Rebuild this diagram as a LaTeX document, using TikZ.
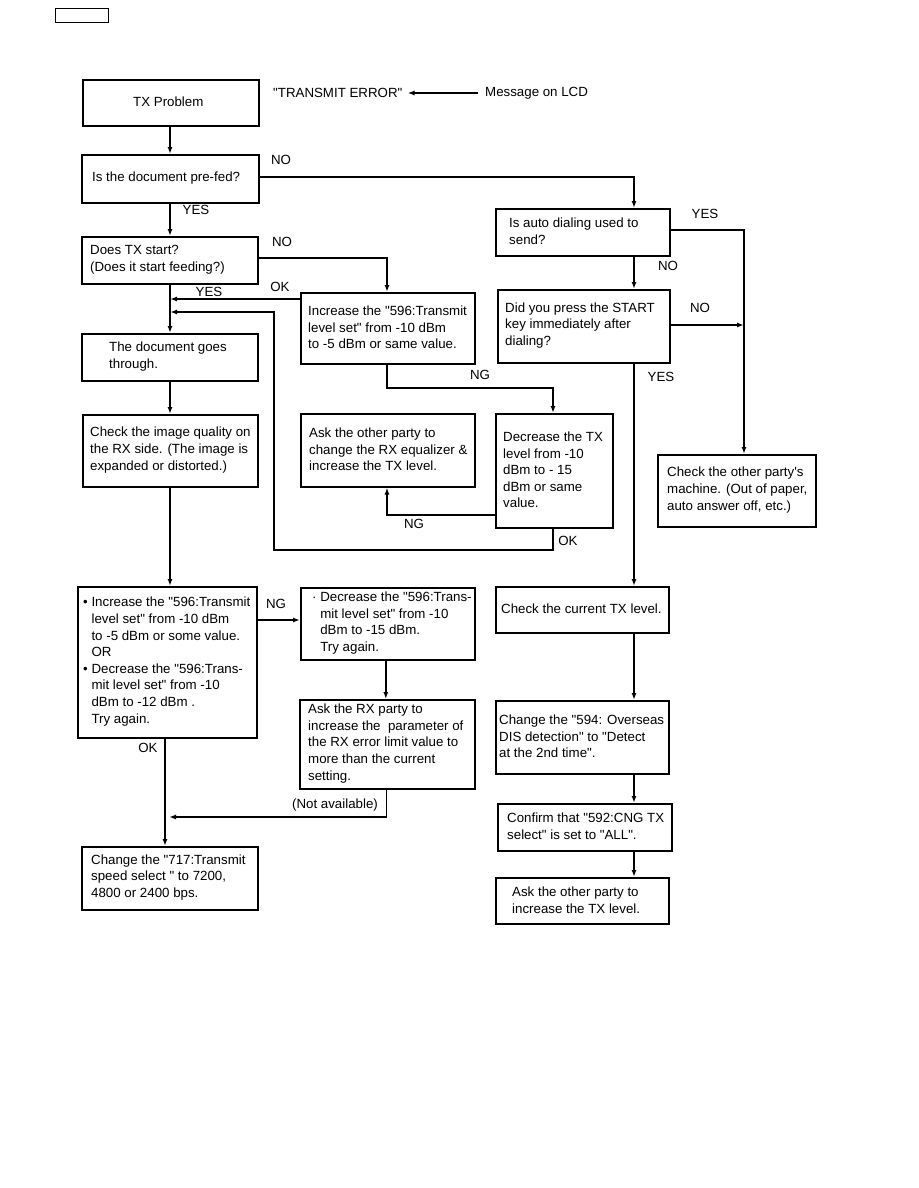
\documentclass[tikz,border=0pt]{standalone}
\usepackage{fontspec}
\setmainfont{Liberation Sans}[Ligatures=TeXOff]
\usetikzlibrary{arrows.meta,calc}
\newcommand\fsz{\fontsize{13.3pt}{16.6pt}\selectfont}
\tikzset{
  bx/.style={draw,line width=1.6pt,inner sep=0pt,rectangle},
  tx/.style={font=\fsz,align=left,inner sep=0pt,anchor=west},
  lbl/.style={font=\fsz,inner sep=0pt},
  arr/.style={line width=1.6pt,-{Latex[length=7pt,width=5pt]}},
}
\newcommand\mkbox[8][]{%
  % #2 name, #3 x1, #4 y1, #5 x2, #6 y2, #7 text left, #8 text
  \pgfmathsetmacro\bw{#5-#3}\pgfmathsetmacro\bh{#6-#4}\pgfmathsetmacro\by{(#4+#6)/2}%
  \node[bx,#1,minimum width=\bw pt,minimum height=\bh pt,anchor=north west] (#2) at (#3,#4) {};%
  \node[tx] (#2-t) at (#7,\by) {#8};%
}
\begin{document}
\begin{tikzpicture}[x=1pt,y=-1pt]
\fill[white] (0,0) rectangle (918,1188);
\useasboundingbox (0,0) rectangle (918,1188);

% small tag box
\node[draw,line width=1pt,inner sep=0pt,minimum width=53pt,minimum height=14pt,anchor=north west] (tag) at (55,8) {};

% header
\node[tx] (te) at (273,93) {"TRANSMIT ERROR"};
\node[tx] (msg) at (485,93) {Message on LCD};
\draw[arr] ([xshift=-7pt]msg.west) -- ([xshift=5pt]te.east);

% left column
\mkbox[line width=2.2pt]{txp}{82}{79}{258}{125}{133}{TX Problem}
\mkbox{prefed}{81}{154}{258}{202}{92}{Is the document pre-fed?}
\mkbox{txstart}{81}{236}{257}{283}{90}{Does TX start?\\(Does it start feeding?)}
\mkbox{docthru}{81}{333}{257}{380}{109}{The document goes\\through.}
\mkbox{imgq}{82}{414}{257}{486}{90}{Check the image quality on\\the RX side. (The image is\\expanded or distorted.)}
\mkbox{inc}{77}{586}{256}{737}{83}{• Increase the "596:Transmit\\\phantom{• }level set" from -10 dBm\\\phantom{• }to -5 dBm or some value.\\\phantom{• }OR\\• Decrease the "596:Trans-\\\phantom{• }mit level set" from -10\\\phantom{• }dBm to -12 dBm .\\\phantom{• }Try again.}
\mkbox[line width=2.2pt]{speed}{81}{846}{257}{909}{91}{Change the "717:Transmit\\speed select " to 7200,\\4800 or 2400 bps.}

% middle column
\mkbox{incr}{300}{292}{474}{363}{308}{Increase the "596:Transmit\\level set" from -10 dBm\\to -5 dBm or same value.}
\mkbox{askeq}{300}{413}{474}{486}{309}{Ask the other party to\\change the RX equalizer \&\\increase the TX level.}
\mkbox{dectx}{495}{413}{612}{527}{503}{Decrease the TX\\level from -10\\dBm to - 15\\dBm or same\\value.}
\mkbox{dec15}{300}{587}{474}{659}{312}{· Decrease the "596:Trans-\\\phantom{· }mit level set" from -10\\\phantom{· }dBm to -15 dBm.\\\phantom{· }Try again.}
\mkbox{askrx}{299}{699}{474}{788}{308}{Ask the RX party to\\increase the\ \ parameter of\\the RX error limit value to\\more than the current\\setting.}

% right column
\mkbox{auto}{495}{208}{669}{255}{509}{Is auto dialing used to\\send?}
\mkbox{start}{497}{289}{669}{362}{505}{Did you press the START\\key immediately after\\dialing?}
\mkbox{other}{657}{454}{815}{526}{667}{Check the other party's\\machine. (Out of paper,\\auto answer off, etc.)}
\mkbox{curtx}{495}{586}{668}{632}{501}{Check the current TX level.}
\mkbox{ovs}{495}{700}{668}{773}{499}{Change the "594: Overseas\\DIS detection" to "Detect\\at the 2nd time".}
\mkbox{cng}{497}{803}{671}{850}{507}{Confirm that "592:CNG TX\\select" is set to "ALL".}
\mkbox[line width=2pt]{askinc}{495}{877}{668}{923}{512}{Ask the other party to\\increase the TX level.}

% column coordinates
\coordinate (cL) at (170,0);
\coordinate (cOK) at (165,0);
\coordinate (cM) at (387,0);
\coordinate (cD) at (553,0);
\coordinate (cR) at (634,0);
\coordinate (cF) at (744,0);

% labels
\node[lbl] (lno1) at (281,160) {NO};
\node[lbl] (lyes1) at (196,210) {YES};
\node[lbl] (lno2) at (282,242) {NO};
\node[lbl] (lok1) at (280,287) {OK};
\node[lbl] (lyes2) at (209,292) {YES};
\node[lbl] (lng1) at (480,375) {NG};
\node[lbl] (lng2) at (414,524) {NG};
\node[lbl] (lok2) at (568,541) {OK};
\node[lbl] (lng3) at (276,604) {NG};
\node[lbl] (lok3) at (148,748) {OK};
\node[lbl] (lna) at (335,805) {(Not available)};
\node[lbl] (lyes3) at (705,214) {YES};
\node[lbl] (lno3) at (668,266) {NO};
\node[lbl] (lno4) at (700,308) {NO};
\node[lbl] (lyes4) at (661,377) {YES};

% connectors left
\draw[arr] (txp.south -| cL) -- (prefed.north -| cL);
\draw[arr] (prefed.south -| cL) -- (txstart.north -| cL);
\draw[arr] (txstart.south -| cL) -- (docthru.north -| cL);
\draw[arr] (docthru.south -| cL) -- (imgq.north -| cL);
\draw[arr] (imgq.south -| cL) -- (inc.north -| cL);
\draw[arr] (inc.south -| cOK) -- (speed.north -| cOK);

% pre-fed NO -> auto
\draw[arr] ([yshift=2pt]prefed.east) -| (auto.north -| cR);
% TX start NO -> increase
\draw[arr] ([yshift=2.5pt]txstart.east) -| (incr.north -| cM);
% increase OK -> main line
\coordinate (jOK) at (170,299);
\draw[arr] (incr.west |- jOK) -- (jOK);
% increase NG -> decrease TX
\coordinate (jNG1) at (387,388);
\draw[arr] (incr.south -| cM) -- (jNG1) -| (dectx.north -| cD);
% decrease TX NG -> ask equalizer
\coordinate (jNG2) at (387,515);
\draw[arr] (dectx.west |- jNG2) -- (jNG2) -- (askeq.south -| cM);
% decrease TX OK -> loop back
\coordinate (jLoopB) at (274,550);
\coordinate (jLoopT) at (170,312);
\draw[arr] (dectx.south -| cD) |- (jLoopB) -- (jLoopB |- jLoopT) -- (jLoopT);

% inc NG -> dec15
\coordinate (jNG3) at (300,620);
\draw[arr] (inc.east |- jNG3) -- (dec15.west |- jNG3);
\draw[arr] ([xshift=-2pt]dec15.south) -- ([xshift=-2pt]askrx.north -| dec15.south);
\coordinate (jNA) at (169,817);
\draw[arr] ([xshift=-1pt]askrx.south) |- (jNA);

% right side
\coordinate (jY) at (744,230);
\draw[arr] (auto.east |- jY) -- (jY) -- (other.north -| cF);
\draw[arr] (auto.south -| cR) -- (start.north -| cR);
\coordinate (jN) at (744,325);
\draw[arr] (start.east |- jN) -- (jN);
\draw[arr] (start.south -| cR) -- (curtx.north -| cR);
\draw[arr] (curtx.south -| cR) -- (ovs.north -| cR);
\draw[arr] (ovs.south -| cR) -- (cng.north -| cR);
\draw[arr] (cng.south -| cR) -- (askinc.north -| cR);
\end{tikzpicture}
\end{document}
